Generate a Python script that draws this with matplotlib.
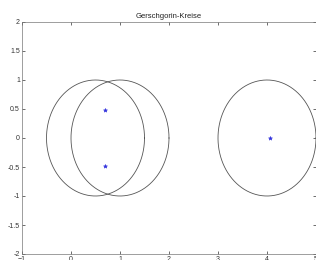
import numpy as np
import matplotlib.pyplot as plt

# Gerschgorin-Kreise: Mittelpunkte, Radien, Eigenwerte
centers = [0.5, 1.0, 4.0]
radii = [1.0, 1.0, 1.0]
eig_re = [0.70, 0.70, 4.07]
eig_im = [0.49, -0.49, 0.0]

plt.rcParams['font.family'] = ['Liberation Sans', 'DejaVu Sans']

fig = plt.figure(figsize=(3.16, 2.6), dpi=100)
ax = fig.add_axes([22/316, 6/260, 294/316, 232/260])

t = np.linspace(0, 2*np.pi, 200)
for c, r in zip(centers, radii):
    ax.plot(c + r*np.cos(t), r*np.sin(t), color='#555555', lw=0.6)

ax.plot(eig_re, eig_im, '*', color='#3333dd', ms=3, mew=0.4)

ax.set_xlim(-1, 5)
ax.set_ylim(-2, 2)
ax.set_yticks([-2, -1.5, -1, -0.5, 0, 0.5, 1, 1.5, 2])
ax.set_yticklabels(['-2', '-1.5', '-1', '-0.5', '0', '0.5', '1', '1.5', '2'])
ax.set_xticks(range(-1, 6))
ax.tick_params(direction='in', length=2.5, width=0.5, labelsize=5,
               colors='#333333', top=True, right=True, pad=1.5)
for s in ax.spines.values():
    s.set_linewidth(0.5)
    s.set_color('#777777')
ax.set_title('Gerschgorin-Kreise', fontsize=5.5, pad=3, color='#222222')

fig.savefig('out.png', dpi=100)
